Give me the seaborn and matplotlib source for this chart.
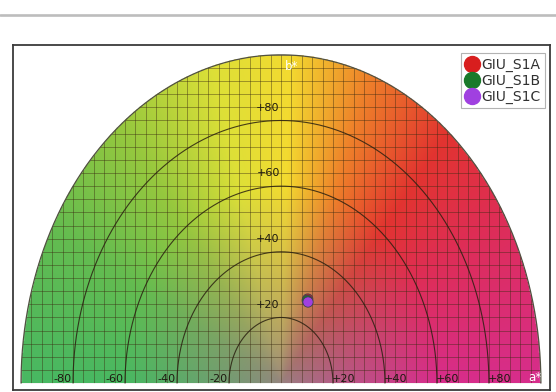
import numpy as np
import pandas as pd
import matplotlib
matplotlib.use("Agg")
import matplotlib.pyplot as plt
import seaborn as sns
from matplotlib.lines import Line2D
from matplotlib.patches import Polygon

# CIELAB a*/b* measurements of the samples
samples = ["GIU_S1A", "GIU_S1B", "GIU_S1C"]
a_star = [10.3, 10.1, 10.4]
b_star = [25.6, 25.2, 24.7]
sample_colors = ["#d81e1e", "#1a7a2a", "#a040e0"]

# chroma rings and a* axis labels
rings = [20, 40, 60, 80]
a_ticks = [-80, -60, -40, -20, 20, 40, 60, 80]
max_chroma = 100

sns.set_style("white")
plt.rcParams["font.family"] = ["Liberation Sans Narrow", "DejaVu Sans"]

W, H = 556, 392
fig = plt.figure(figsize=(W / 100, H / 100), dpi=100)
fig.patch.set_facecolor("white")

# thin grey rule across the top of the page
fig.add_artist(Line2D([0, 1], [1 - 15 / H, 1 - 15 / H], color="#bdbdbd", lw=1.9))

# framed plot area
left, right, top, bottom = 13, 550, 45, 390
ax = fig.add_axes([left / W, (H - bottom) / H, (right - left) / W, (bottom - top) / H])
ax.set_xlim(-103.1, 103.5)
ax.set_ylim(-2.1, 103.0)
ax.set_facecolor("white")
for s in ax.spines.values():
    s.set_color("#3a3a3a")
    s.set_linewidth(1.3)
ax.set_xticks([])
ax.set_yticks([])

# colour field of the a*/b* half plane
n = 500
av = np.linspace(-max_chroma, max_chroma, n)
bv = np.linspace(0, max_chroma, n // 2)
A, B = np.meshgrid(av, bv)
R = np.hypot(A, B)
ang = np.degrees(np.arctan2(B, A))
hue_deg = [0, 30, 50, 70, 88, 105, 128, 152, 180]
hue_rgb = np.array([(215, 45, 140), (222, 45, 88), (226, 52, 48), (238, 128, 42),
                    (243, 218, 48), (222, 224, 55), (150, 200, 62), (100, 188, 80),
                    (72, 184, 98)], float) / 255
gray = np.array([150, 132, 128], float) / 255
sat = np.clip(R / 60, 0, 1) ** 0.75
img = np.zeros(A.shape + (4,))
for c in range(3):
    full = np.interp(ang, hue_deg, hue_rgb[:, c])
    img[..., c] = gray[c] + (full - gray[c]) * sat
img[..., 3] = (R <= max_chroma).astype(float)
ax.imshow(img, extent=(-max_chroma, max_chroma, 0, max_chroma), origin="lower",
          aspect="auto", interpolation="bilinear", zorder=1)

# half-disc clip outline
t = np.linspace(0, np.pi, 400)
half = Polygon(np.column_stack([max_chroma * np.cos(t), max_chroma * np.sin(t)]),
               closed=True, facecolor="none", edgecolor="none")
ax.add_patch(half)

# fine grid
for v in np.arange(-100, 101, 4):
    ln, = ax.plot([v, v], [0, 100], color="#3a2a10", lw=0.6, alpha=0.5, zorder=2)
    ln.set_clip_path(half)
for v in np.arange(0, 101, 4):
    ln, = ax.plot([-100, 100], [v, v], color="#3a2a10", lw=0.6, alpha=0.5, zorder=2)
    ln.set_clip_path(half)

# chroma rings and outer edge
for r in rings:
    ax.plot(r * np.cos(t), r * np.sin(t), color="#2a2010", lw=0.8, alpha=0.85, zorder=3)
    ax.text(-5, r + 3.9, f"+{r}", ha="center", va="center", fontsize=8, color="#1e1a10", zorder=4)
ax.plot(max_chroma * np.cos(t), max_chroma * np.sin(t), color="#505040", lw=0.9, zorder=3)

for v in a_ticks:
    off = 4 if v > 0 else -4
    lab = f"+{v}" if v > 0 else f"{v}"
    ax.text(v + off, 1.3, lab, ha="center", va="center", fontsize=8, color="#1e1a10", zorder=4)

ax.text(4, 96.5, "b*", ha="center", va="center", fontsize=8.5, color="white", zorder=4)
ax.text(97.5, 1.8, "a*", ha="center", va="center", fontsize=8.5, color="white", zorder=4)

# sample points
df = pd.DataFrame({"sample": samples, "a": a_star, "b": b_star})
sns.scatterplot(data=df, x="a", y="b", hue="sample", palette=sample_colors, s=55,
                edgecolor="#404050", linewidth=0.6, ax=ax, zorder=5)
ax.set_xlabel("")
ax.set_ylabel("")

handles = [Line2D([], [], marker="o", ls="", markersize=11.5, markerfacecolor=c,
                  markeredgecolor=c) for c in sample_colors]
leg = ax.legend(handles, samples, loc="upper right", bbox_to_anchor=(0.99, 0.976),
                frameon=True, fontsize=10, handletextpad=0.15, borderpad=0.3,
                labelspacing=0.15, handlelength=1.0, borderaxespad=0, fancybox=False)
leg.get_frame().set_edgecolor("#a0a0a0")
leg.get_frame().set_linewidth(0.8)
for txt in leg.get_texts():
    txt.set_color("#303030")

fig.savefig("out.png", dpi=100)
